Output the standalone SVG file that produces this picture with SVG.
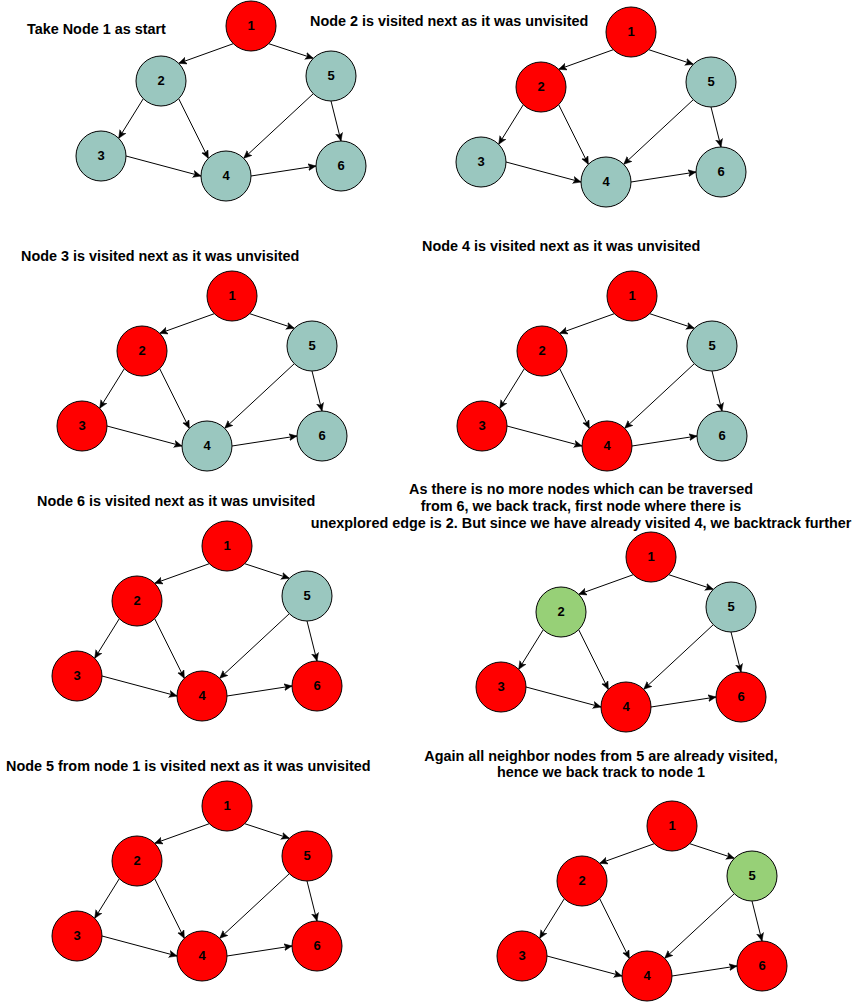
<svg xmlns="http://www.w3.org/2000/svg" width="861" height="1006" viewBox="0 0 861 1006">
<defs>
<style>
.title{font-family:"Liberation Sans",Arial,Helvetica,sans-serif;font-size:14.4px;font-weight:bold;fill:#000}
.lbl{font-family:"Liberation Sans",Arial,Helvetica,sans-serif;font-size:13px;font-weight:bold;fill:#000;text-anchor:middle}
.n circle{stroke:#000;stroke-width:1}
.red circle{fill:#FF0000}
.teal circle{fill:#9AC7BF}
.green circle{fill:#97D077}
.e{stroke:#000;stroke-width:1;fill:none}
</style>
<marker id="arr" markerUnits="userSpaceOnUse" markerWidth="10" markerHeight="10" refX="8" refY="4" orient="auto">
<path d="M0,0.5 L8,4 L0,7.5 L2,4 Z" fill="#000" stroke="#000" stroke-width="0.5"/>
</marker>
<g id="edgeset">
<line class="e" marker-end="url(#arr)" x1="-17.68" y1="17.68" x2="-72.32" y2="37.32"/>
<line class="e" marker-end="url(#arr)" x1="17.68" y1="17.68" x2="62.32" y2="32.32"/>
<line class="e" marker-end="url(#arr)" x1="-107.68" y1="72.68" x2="-132.32" y2="112.32"/>
<line class="e" marker-end="url(#arr)" x1="-72.32" y1="72.68" x2="-42.68" y2="132.32"/>
<line class="e" marker-end="url(#arr)" x1="62.32" y1="67.68" x2="-7.32" y2="132.32"/>
<line class="e" marker-end="url(#arr)" x1="80" y1="75" x2="90" y2="115"/>
<line class="e" marker-end="url(#arr)" x1="-125" y1="130" x2="-50" y2="150"/>
<line class="e" marker-end="url(#arr)" x1="0" y1="150" x2="65" y2="140"/>
</g>
</defs>

<g id="texts">
<text class="title" x="27" y="34">Take Node 1 as start</text>
<text class="title" x="310" y="26">Node 2 is visited next as it was unvisited</text>
<text class="title" x="21" y="261">Node 3 is visited next as it was unvisited</text>
<text class="title" x="422" y="251">Node 4 is visited next as it was unvisited</text>
<text class="title" x="37" y="506">Node 6 is visited next as it was unvisited</text>
<text class="title" text-anchor="middle" x="581" y="494">As there is no more nodes which can be traversed</text>
<text class="title" text-anchor="middle" x="581" y="511">from 6, we back track, first node where there is</text>
<text class="title" text-anchor="middle" x="581" y="528">unexplored edge is 2. But since we have already visited 4, we backtrack further</text>
<text class="title" x="6" y="771">Node 5 from node 1 is visited next as it was unvisited</text>
<text class="title" text-anchor="middle" x="601" y="761">Again all neighbor nodes from 5 are already visited,</text>
<text class="title" text-anchor="middle" x="601" y="777">hence we back track to node 1</text>
</g>

<!-- Panel 1 -->
<g id="p1" transform="translate(251,26)">
<g id="p1-connectors"><use href="#edgeset"/></g>
<g id="p1-n1" class="n red"><circle cx="0" cy="0" r="25"/><text class="lbl" x="0" y="4">1</text></g>
<g id="p1-n2" class="n teal"><circle cx="-90" cy="55" r="25"/><text class="lbl" x="-90" y="59">2</text></g>
<g id="p1-n5" class="n teal"><circle cx="80" cy="50" r="25"/><text class="lbl" x="80" y="54">5</text></g>
<g id="p1-n3" class="n teal"><circle cx="-150" cy="130" r="25"/><text class="lbl" x="-150" y="134">3</text></g>
<g id="p1-n4" class="n teal"><circle cx="-25" cy="150" r="25"/><text class="lbl" x="-25" y="154">4</text></g>
<g id="p1-n6" class="n teal"><circle cx="90" cy="140" r="25"/><text class="lbl" x="90" y="144">6</text></g>
</g>

<!-- Panel 2 -->
<g id="p2" transform="translate(631,32)">
<g id="p2-connectors"><use href="#edgeset"/></g>
<g id="p2-n1" class="n red"><circle cx="0" cy="0" r="25"/><text class="lbl" x="0" y="4">1</text></g>
<g id="p2-n2" class="n red"><circle cx="-90" cy="55" r="25"/><text class="lbl" x="-90" y="59">2</text></g>
<g id="p2-n5" class="n teal"><circle cx="80" cy="50" r="25"/><text class="lbl" x="80" y="54">5</text></g>
<g id="p2-n3" class="n teal"><circle cx="-150" cy="130" r="25"/><text class="lbl" x="-150" y="134">3</text></g>
<g id="p2-n4" class="n teal"><circle cx="-25" cy="150" r="25"/><text class="lbl" x="-25" y="154">4</text></g>
<g id="p2-n6" class="n teal"><circle cx="90" cy="140" r="25"/><text class="lbl" x="90" y="144">6</text></g>
</g>

<!-- Panel 3 -->
<g id="p3" transform="translate(232,296)">
<g id="p3-connectors"><use href="#edgeset"/></g>
<g id="p3-n1" class="n red"><circle cx="0" cy="0" r="25"/><text class="lbl" x="0" y="4">1</text></g>
<g id="p3-n2" class="n red"><circle cx="-90" cy="55" r="25"/><text class="lbl" x="-90" y="59">2</text></g>
<g id="p3-n5" class="n teal"><circle cx="80" cy="50" r="25"/><text class="lbl" x="80" y="54">5</text></g>
<g id="p3-n3" class="n red"><circle cx="-150" cy="130" r="25"/><text class="lbl" x="-150" y="134">3</text></g>
<g id="p3-n4" class="n teal"><circle cx="-25" cy="150" r="25"/><text class="lbl" x="-25" y="154">4</text></g>
<g id="p3-n6" class="n teal"><circle cx="90" cy="140" r="25"/><text class="lbl" x="90" y="144">6</text></g>
</g>

<!-- Panel 4 -->
<g id="p4" transform="translate(632,296)">
<g id="p4-connectors"><use href="#edgeset"/></g>
<g id="p4-n1" class="n red"><circle cx="0" cy="0" r="25"/><text class="lbl" x="0" y="4">1</text></g>
<g id="p4-n2" class="n red"><circle cx="-90" cy="55" r="25"/><text class="lbl" x="-90" y="59">2</text></g>
<g id="p4-n5" class="n teal"><circle cx="80" cy="50" r="25"/><text class="lbl" x="80" y="54">5</text></g>
<g id="p4-n3" class="n red"><circle cx="-150" cy="130" r="25"/><text class="lbl" x="-150" y="134">3</text></g>
<g id="p4-n4" class="n red"><circle cx="-25" cy="150" r="25"/><text class="lbl" x="-25" y="154">4</text></g>
<g id="p4-n6" class="n teal"><circle cx="90" cy="140" r="25"/><text class="lbl" x="90" y="144">6</text></g>
</g>

<!-- Panel 5 -->
<g id="p5" transform="translate(227,546)">
<g id="p5-connectors"><use href="#edgeset"/></g>
<g id="p5-n1" class="n red"><circle cx="0" cy="0" r="25"/><text class="lbl" x="0" y="4">1</text></g>
<g id="p5-n2" class="n red"><circle cx="-90" cy="55" r="25"/><text class="lbl" x="-90" y="59">2</text></g>
<g id="p5-n5" class="n teal"><circle cx="80" cy="50" r="25"/><text class="lbl" x="80" y="54">5</text></g>
<g id="p5-n3" class="n red"><circle cx="-150" cy="130" r="25"/><text class="lbl" x="-150" y="134">3</text></g>
<g id="p5-n4" class="n red"><circle cx="-25" cy="150" r="25"/><text class="lbl" x="-25" y="154">4</text></g>
<g id="p5-n6" class="n red"><circle cx="90" cy="140" r="25"/><text class="lbl" x="90" y="144">6</text></g>
</g>

<!-- Panel 6 -->
<g id="p6" transform="translate(651,557)">
<g id="p6-connectors"><use href="#edgeset"/></g>
<g id="p6-n1" class="n red"><circle cx="0" cy="0" r="25"/><text class="lbl" x="0" y="4">1</text></g>
<g id="p6-n2" class="n green"><circle cx="-90" cy="55" r="25"/><text class="lbl" x="-90" y="59">2</text></g>
<g id="p6-n5" class="n teal"><circle cx="80" cy="50" r="25"/><text class="lbl" x="80" y="54">5</text></g>
<g id="p6-n3" class="n red"><circle cx="-150" cy="130" r="25"/><text class="lbl" x="-150" y="134">3</text></g>
<g id="p6-n4" class="n red"><circle cx="-25" cy="150" r="25"/><text class="lbl" x="-25" y="154">4</text></g>
<g id="p6-n6" class="n red"><circle cx="90" cy="140" r="25"/><text class="lbl" x="90" y="144">6</text></g>
</g>

<!-- Panel 7 -->
<g id="p7" transform="translate(227,806)">
<g id="p7-connectors"><use href="#edgeset"/></g>
<g id="p7-n1" class="n red"><circle cx="0" cy="0" r="25"/><text class="lbl" x="0" y="4">1</text></g>
<g id="p7-n2" class="n red"><circle cx="-90" cy="55" r="25"/><text class="lbl" x="-90" y="59">2</text></g>
<g id="p7-n5" class="n red"><circle cx="80" cy="50" r="25"/><text class="lbl" x="80" y="54">5</text></g>
<g id="p7-n3" class="n red"><circle cx="-150" cy="130" r="25"/><text class="lbl" x="-150" y="134">3</text></g>
<g id="p7-n4" class="n red"><circle cx="-25" cy="150" r="25"/><text class="lbl" x="-25" y="154">4</text></g>
<g id="p7-n6" class="n red"><circle cx="90" cy="140" r="25"/><text class="lbl" x="90" y="144">6</text></g>
</g>

<!-- Panel 8 -->
<g id="p8" transform="translate(672,826)">
<g id="p8-connectors"><use href="#edgeset"/></g>
<g id="p8-n1" class="n red"><circle cx="0" cy="0" r="25"/><text class="lbl" x="0" y="4">1</text></g>
<g id="p8-n2" class="n red"><circle cx="-90" cy="55" r="25"/><text class="lbl" x="-90" y="59">2</text></g>
<g id="p8-n5" class="n green"><circle cx="80" cy="50" r="25"/><text class="lbl" x="80" y="54">5</text></g>
<g id="p8-n3" class="n red"><circle cx="-150" cy="130" r="25"/><text class="lbl" x="-150" y="134">3</text></g>
<g id="p8-n4" class="n red"><circle cx="-25" cy="150" r="25"/><text class="lbl" x="-25" y="154">4</text></g>
<g id="p8-n6" class="n red"><circle cx="90" cy="140" r="25"/><text class="lbl" x="90" y="144">6</text></g>
</g>
</svg>
